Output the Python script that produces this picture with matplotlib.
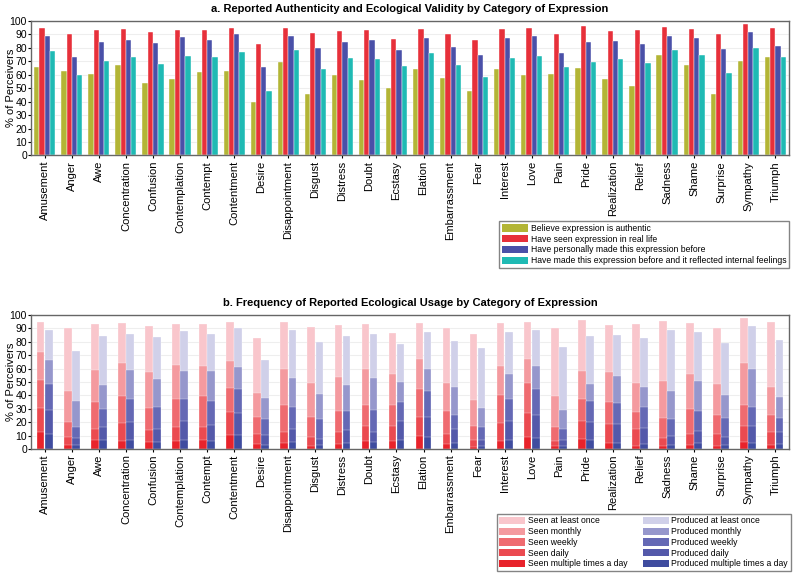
import numpy as np
import matplotlib
matplotlib.use('Agg')
from matplotlib import pyplot as plt
from matplotlib.patches import Patch

plt.rcParams['font.family'] = ['Liberation Sans', 'DejaVu Sans']

categories = ['Amusement', 'Anger', 'Awe', 'Concentration', 'Confusion', 'Contemplation',
              'Contempt', 'Contentment', 'Desire', 'Disappointment', 'Disgust', 'Distress',
              'Doubt', 'Ecstasy', 'Elation', 'Embarrassment', 'Fear', 'Interest', 'Love',
              'Pain', 'Pride', 'Realization', 'Relief', 'Sadness', 'Shame', 'Surprise',
              'Sympathy', 'Triumph']

# panel a
authentic = [66, 63, 60.5, 67, 54, 57, 62, 62.5, 39.5, 69.5, 45.5, 60, 56, 50, 64.5, 57.5,
             48, 64.5, 59.5, 60.5, 65, 57, 51.5, 74.5, 67, 45.5, 70, 73.5]
seen = [94.5, 90, 93, 94, 91.5, 93, 93.5, 95, 82.5, 95, 91, 92.5, 93.5, 86.5, 94, 90.5,
        85.5, 94, 94.5, 90.5, 96.5, 92.5, 93.5, 95.5, 94, 90, 97.5, 95]
made = [89, 73, 84, 86, 83.5, 88, 85.5, 90, 66, 89, 80, 84, 86, 78, 87, 80.5,
        75, 87, 88.5, 76, 84.5, 85, 82.5, 88.5, 87, 79, 92, 81.5]
reflected = [77.5, 60, 70, 73, 68, 74, 73, 77, 48, 78, 64.5, 72.5, 72, 66.5, 76.5, 67,
             58, 72.5, 74, 65.5, 69.5, 71.5, 68.5, 78, 74.5, 61.5, 80, 73.5]

# panel b (cumulative levels, "at least once" = seen / made above)
seen_monthly = [72, 43, 59, 64, 57.5, 63, 62, 65.5, 42, 59.5, 49, 54, 59.5, 56, 67, 49,
                36.5, 62, 67, 39.5, 58, 57.5, 49, 50.5, 56, 48.5, 64, 46]
seen_weekly = [51.5, 20, 35, 39.5, 30.5, 37.5, 39.5, 45.5, 23.5, 33, 24, 28.5, 33, 32.5, 44.5, 28.5,
               17, 40, 49, 16, 37, 34.8, 27.5, 23, 29.8, 25.3, 33, 25.3]
seen_daily = [30.5, 8.6, 14.5, 19, 14, 16.5, 16.5, 27.5, 11.5, 12.7, 8.6, 12.7, 17, 17, 24, 11.5,
              6.6, 19, 26.6, 6, 20.5, 18.5, 14.5, 7.8, 11.5, 10.8, 17, 12.7]
seen_multi = [12.7, 3, 6.6, 6, 5.4, 6, 6.6, 10.3, 3.7, 4.2, 2.5, 3.4, 6, 6, 9.8, 3.7,
              1.7, 6, 9, 2.2, 7.4, 4.2, 2.2, 2.5, 3, 2.5, 4.9, 3]

prod_monthly = [66.5, 36, 48, 59, 52, 58, 58, 61, 38, 53, 41, 48, 53, 50, 59.5, 46,
                30.6, 56, 61.7, 29.2, 48.6, 54.4, 46, 43.6, 50.4, 40, 59.6, 39]
prod_weekly = [48.5, 16, 29.5, 37.5, 31, 37, 36, 45, 22, 31, 22, 28, 29.3, 35, 43, 25.5,
               16, 37.3, 45, 14.6, 35.4, 34.4, 31, 22.3, 28, 23, 31, 23.2]
prod_daily = [28.8, 7.8, 16.4, 20, 14.7, 21, 18, 26.7, 10.3, 14.7, 7.4, 14, 12.7, 20.6, 23.8, 14.5,
              7, 20.8, 25, 6.6, 20.3, 18.6, 15.7, 9.6, 13.5, 8.6, 16.9, 12.7]
prod_multi = [11.5, 3, 6.6, 6.6, 5.4, 7, 6, 10.3, 3, 5, 3, 4.7, 5.4, 6.6, 8.6, 4.2,
              2.2, 6.6, 8.3, 2.5, 6.6, 4.7, 3.7, 3, 4.2, 3, 4.2, 3.7]

labels_a = ['Believe expression is authentic', 'Have seen expression in real life',
            'Have personally made this expression before',
            'Have made this expression before and it reflected internal feelings']
colors_a = ['#b3b536', '#e7303a', '#4a50a8', '#1fbab4']

labels_seen = ['Seen at least once', 'Seen monthly', 'Seen weekly', 'Seen daily',
               'Seen multiple times a day']
labels_prod = ['Produced at least once', 'Produced monthly', 'Produced weekly',
               'Produced daily', 'Produced multiple times a day']
reds = ['#f9c6cc', '#f49a9f', '#ef6b70', '#eb4a50', '#e8232b']
blues = ['#d0d0e9', '#9697cc', '#6569b5', '#5459aa', '#3f4c9f']

x = np.arange(len(categories))

fig = plt.figure(figsize=(8, 5.8), dpi=100)
ax1 = fig.add_axes([0.039, 0.732, 0.947, 0.232])
ax2 = fig.add_axes([0.039, 0.226, 0.947, 0.231])


def style(ax):
    ax.set_xlim(-0.5, len(categories) - 0.5)
    ax.set_ylim(0, 100)
    ax.set_yticks(range(0, 101, 10))
    ax.set_xticks(x)
    ax.set_xticklabels(categories, rotation=90, fontsize=8)
    ax.tick_params(axis='y', labelsize=7.5, length=2, pad=1)
    ax.tick_params(axis='x', length=2, pad=2)
    ax.set_ylabel('% of Perceivers', fontsize=8)
    ax.yaxis.set_label_coords(-0.02, 0.5)
    ax.yaxis.grid(True, color='#eeeeee', linewidth=0.8)
    ax.set_axisbelow(True)
    for s in ax.spines.values():
        s.set_color('#666666')
        s.set_linewidth(1)


# a
w = 0.195
series_a = [authentic, seen, made, reflected]
for k, vals in enumerate(series_a):
    ax1.bar(x + (k - 1.5) * w, vals, width=w, color=colors_a[k],
            edgecolor='white', linewidth=0.3, label=labels_a[k])
style(ax1)
fig.text(0.5125, 0.984, 'a. Reported Authenticity and Ecological Validity by Category of Expression',
         ha='center', va='center', fontsize=8, fontweight='bold')

leg_a = [Patch(facecolor=c, label=l) for c, l in zip(colors_a, labels_a)]
fig.legend(handles=leg_a, loc='upper left', bbox_to_anchor=(0.624, 0.619),
           fontsize=6.2, frameon=True, fancybox=False, edgecolor='#666666',
           handlelength=3.0, handleheight=0.9, labelspacing=0.2, borderpad=0.35,
           handletextpad=0.3, borderaxespad=0)

# b
wb = 0.28
seen_levels = [seen, seen_monthly, seen_weekly, seen_daily, seen_multi]
prod_levels = [made, prod_monthly, prod_weekly, prod_daily, prod_multi]
for k in range(5):
    ax2.bar(x - 0.15, seen_levels[k], width=wb, color=reds[k], edgecolor='white', linewidth=0.2)
    ax2.bar(x + 0.15, prod_levels[k], width=wb, color=blues[k], edgecolor='white', linewidth=0.2)
style(ax2)
fig.text(0.5125, 0.478, 'b. Frequency of Reported Ecological Usage by Category of Expression',
         ha='center', va='center', fontsize=8, fontweight='bold')

leg_b = [Patch(facecolor=c, label=l) for c, l in zip(reds, labels_seen)]
leg_b += [Patch(facecolor=c, label=l) for c, l in zip(blues, labels_prod)]
fig.legend(handles=leg_b, loc='upper left', bbox_to_anchor=(0.621, 0.114), ncol=2,
           fontsize=6.2, frameon=True, fancybox=False, edgecolor='#666666',
           handlelength=3.0, handleheight=0.9, labelspacing=0.2, borderpad=0.3,
           handletextpad=0.3, columnspacing=1.8, borderaxespad=0)

fig.savefig('out.png', dpi=100)
